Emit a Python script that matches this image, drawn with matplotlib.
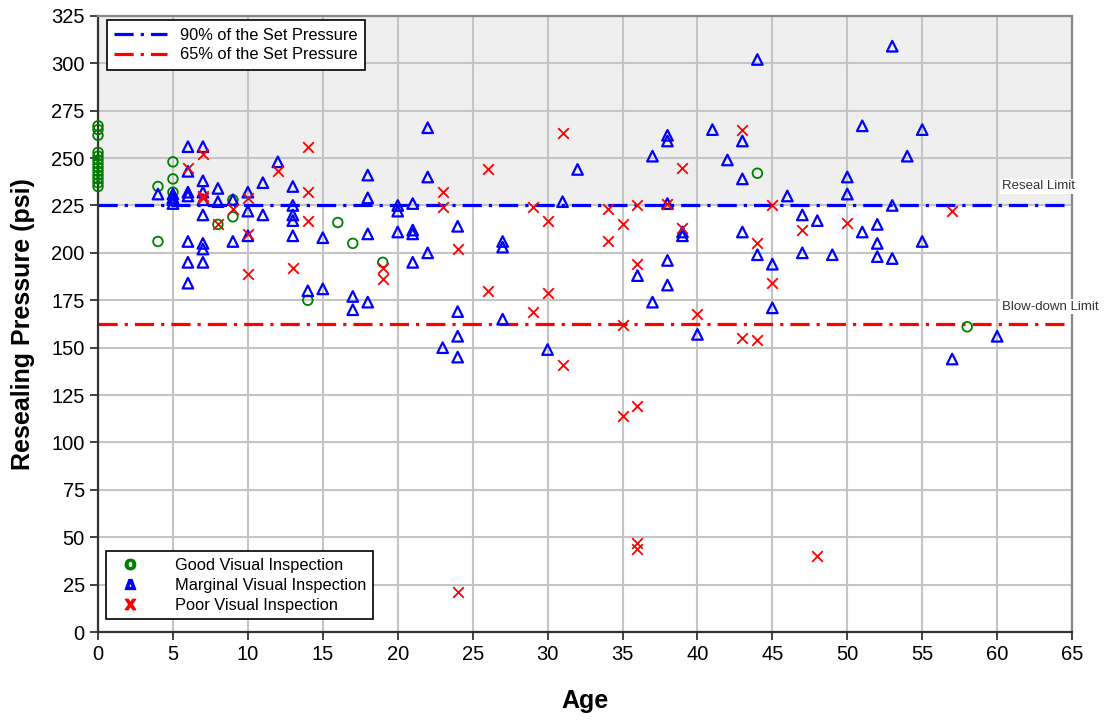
import matplotlib
matplotlib.use("Agg")
import matplotlib.pyplot as plt
from matplotlib.lines import Line2D

plt.rcParams["font.family"] = ["Liberation Sans", "DejaVu Sans"]

# Good visual inspection (age, psi)
good_age = [0, 0, 0, 0, 0, 0, 0, 0, 0, 0, 0, 0, 0,
            4, 4, 5, 5, 5, 8, 9, 9, 14, 16, 17, 19, 44, 58]
good_psi = [267, 265, 262, 253, 251, 249, 247, 245, 243, 241, 239, 237, 235,
            235, 206, 248, 239, 232, 215, 228, 219, 175, 216, 205, 195, 242, 161]

# Marginal visual inspection
marginal_age = [4, 5, 5, 5, 5, 6, 6, 6, 6, 6, 6, 6,
                7, 7, 7, 7, 7, 7, 7, 7, 8, 8, 9, 9, 10, 10, 10, 11, 11, 12,
                13, 13, 13, 13, 13, 14, 15, 15, 17, 17, 18, 18, 18, 18,
                20, 20, 20, 21, 21, 21, 21, 22, 22, 22, 23, 24, 24, 24, 24,
                27, 27, 27, 30, 31, 32, 36, 37, 37, 38, 38, 38, 38, 38, 39, 39,
                40, 41, 42, 43, 43, 43, 44, 44, 45, 45, 46, 47, 47, 48, 49,
                50, 50, 51, 51, 52, 52, 52, 53, 53, 53, 54, 55, 55, 57, 60]
marginal_psi = [231, 231, 229, 228, 226, 256, 243, 232, 230, 206, 195, 184,
                256, 238, 232, 228, 220, 205, 202, 195, 234, 227, 228, 206, 232, 222, 209, 237, 220, 248,
                235, 225, 220, 217, 209, 180, 208, 181, 177, 170, 241, 229, 210, 174,
                225, 222, 211, 226, 212, 210, 195, 266, 240, 200, 150, 214, 169, 156, 145,
                206, 203, 165, 149, 227, 244, 188, 251, 174, 262, 259, 226, 196, 183, 211, 209,
                157, 265, 249, 259, 239, 211, 302, 199, 194, 171, 230, 220, 200, 217, 199,
                240, 231, 267, 211, 215, 205, 198, 309, 225, 197, 251, 265, 206, 144, 156]

# Poor visual inspection
poor_age = [6, 7, 7, 7, 8, 9, 10, 10, 10, 12, 13, 14, 14, 14, 19, 19,
            23, 23, 24, 24, 26, 26, 29, 29, 30, 30, 31, 31, 34, 34, 35, 35, 35,
            36, 36, 36, 36, 36, 38, 39, 39, 40, 43, 43, 44, 44, 45, 45, 47, 48, 50, 57]
poor_psi = [245, 252, 230, 229, 215, 223, 229, 210, 189, 243, 192, 256, 232, 217, 192, 186,
            232, 224, 202, 21, 244, 180, 224, 169, 217, 179, 263, 141, 223, 206, 215, 162, 114,
            225, 194, 119, 47, 44, 226, 245, 213, 168, 265, 155, 205, 154, 225, 184, 212, 40, 216, 222]

set_pressure = 250
reseal_limit = 0.90 * set_pressure
blowdown_limit = 0.65 * set_pressure

fig = plt.figure(figsize=(11.05, 7.21), dpi=100)
ax = fig.add_axes([0.0887, 0.1234, 0.8815, 0.8546])

ax.set_xlim(0, 65)
ax.set_ylim(0, 325)
ax.axhspan(reseal_limit, 325, color="#efefef", zorder=0)
ax.set_xticks(range(0, 66, 5))
ax.set_yticks(range(0, 326, 25))
ax.grid(True, color="#c4c4c4", linewidth=1.5, zorder=1)
ax.set_axisbelow(True)

dash = (6, 2.2, 1, 2.2)
l90, = ax.plot([0, 65], [reseal_limit, reseal_limit], color="#0000ff", lw=2.3,
               dashes=dash, zorder=2)
l65, = ax.plot([0, 65], [blowdown_limit, blowdown_limit], color="#ff0000", lw=2.3,
               dashes=dash, zorder=2)

ax.scatter(good_age, good_psi, marker="o", s=48, facecolors="none",
           edgecolors="#008000", linewidths=1.3, zorder=3, clip_on=False)
ax.scatter(marginal_age, marginal_psi, marker="^", s=58, facecolors="none",
           edgecolors="#0000ff", linewidths=1.6, zorder=3)
ax.scatter(poor_age, poor_psi, marker="x", s=58, color="#ff0000",
           linewidths=1.3, zorder=4)

ax.text(60.3, 235, "Reseal Limit", fontsize=9.5, color="#333333", va="center",
        bbox=dict(facecolor="white", edgecolor="none", pad=1), zorder=5)
ax.text(60.3, 171.5, "Blow-down Limit", fontsize=9.5, color="#333333", va="center",
        bbox=dict(facecolor="white", edgecolor="none", pad=1), zorder=5,
        clip_on=False)

for side in ["left", "bottom"]:
    ax.spines[side].set_color("#333333")
    ax.spines[side].set_linewidth(1.6)
for side in ["top", "right"]:
    ax.spines[side].set_color("#888888")
    ax.spines[side].set_linewidth(1.6)
ax.tick_params(direction="out", length=6, width=1.3, labelsize=14.5, color="#333333")

ax.set_xlabel("Age", fontsize=18, fontweight="bold", labelpad=18)
ax.set_ylabel("Resealing Pressure (psi)", fontsize=18, fontweight="bold", labelpad=12)

leg1 = ax.legend([l90, l65], ["90% of the Set Pressure", "65% of the Set Pressure"],
                 loc="upper left", bbox_to_anchor=(0.009, 0.993), fontsize=11.8,
                 fancybox=False, framealpha=1, edgecolor="black", borderpad=0.45,
                 handlelength=3.2, labelspacing=0.3, borderaxespad=0)
leg1.get_frame().set_linewidth(1.2)
ax.add_artist(leg1)

h_good = Line2D([], [], ls="none", marker=r"$\mathbf{O}$", color="#008000", markersize=7.5)
h_marg = Line2D([], [], ls="none", marker=r"$\mathbf{\Delta}$", color="#0000ff", markersize=7.5)
h_poor = Line2D([], [], ls="none", marker=r"$\mathbf{X}$", color="#ff0000", markersize=7.5)
leg2 = ax.legend([h_good, h_marg, h_poor],
                 ["Good Visual Inspection", "Marginal Visual Inspection", "Poor Visual Inspection"],
                 loc="lower left", bbox_to_anchor=(0.008, 0.021), fontsize=11.8,
                 fancybox=False, framealpha=1, edgecolor="black", borderpad=0.4,
                 handlelength=2.2, handletextpad=1.6, labelspacing=0.3, borderaxespad=0)
leg2.get_frame().set_linewidth(1.2)

fig.savefig("out.png", dpi=100)
